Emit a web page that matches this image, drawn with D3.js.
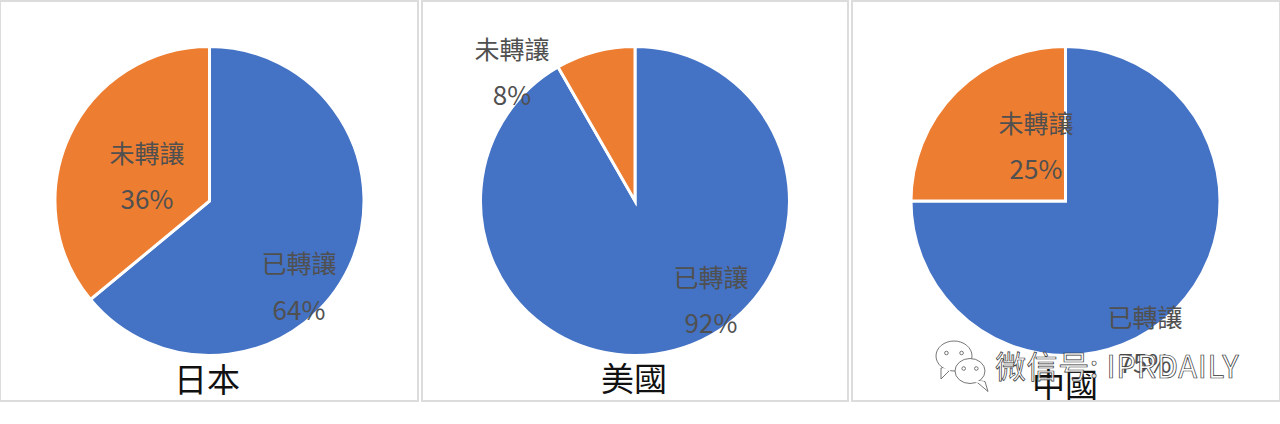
<!DOCTYPE html>
<html><head><meta charset="utf-8">
<script src="https://cdn.jsdelivr.net/npm/d3@7"></script>
<style>html,body{margin:0;background:#fff}svg{display:block}text{font-family:"Noto Sans CJK TC","Noto Sans",sans-serif}</style>
</head><body><svg id="c" width="1280" height="424"></svg>
<script>
const countries=["日本","美國","中國"];
const categories=["已轉讓","未轉讓"];
const japanValues=[64,36];
const usValues=[91.7,8.3];
const chinaValues=[75,25];
const shownPercents=[["64%","36%"],["92%","8%"],["75%","25%"]];
const colors=["#4472C4","#ED7D31"];
const panels=[
 {x:0,w:418,cx:209.5,cy:201,r:154.5,title:[207,392],lab:[[299,264,311],[147,154,200]],v:japanValues},
 {x:422,w:426,cx:635,cy:201,r:154.5,title:[634,391],lab:[[711,278,324],[512,50,96]],v:usValues},
 {x:852,w:428,cx:1065.5,cy:201,r:154.5,title:[1065,397],lab:[[1145,318,364],[1036,124,170]],v:chinaValues}];
const svg=d3.select("#c");
const pie=d3.pie().sort(null).value(d=>d);
const arc=d3.arc().innerRadius(0);
panels.forEach((p,i)=>{
 svg.append("rect").attr("x",p.x).attr("y",1).attr("width",p.w).attr("height",400).attr("fill","#fff").attr("stroke","#dcdcdc").attr("stroke-width",2);
 const g=svg.append("g").attr("transform",`translate(${p.cx},${p.cy})`);
 g.selectAll("path").data(pie(p.v)).join("path").attr("d",d=>arc.outerRadius(p.r)(d)).attr("fill",(d,j)=>colors[j]).attr("stroke","#fff").attr("stroke-width",3);
 categories.forEach((c,j)=>{
  svg.append("text").attr("x",p.lab[j][0]).attr("y",p.lab[j][1]+9).attr("text-anchor","middle").attr("font-size",25).attr("fill","#505050").text(c);
  svg.append("text").attr("x",p.lab[j][0]).attr("y",p.lab[j][2]+9).attr("text-anchor","middle").attr("font-size",26).attr("fill","#505050").text(shownPercents[i][j]);
 });
 svg.append("text").attr("x",p.title[0]).attr("y",p.title[1]).attr("text-anchor","middle").attr("font-size",33).attr("fill","#111").text(countries[i]);
});
const wm=svg.append("g");
const bubble=(cx,cy,rx,ry,tx)=>{
 const b=wm.append("g").attr("fill","#fff").attr("stroke","#666").attr("stroke-width",.9);
 b.append("path").attr("d",`M${cx+tx-5},${cy+ry-3}L${cx+tx+(tx<0?-5:8)},${cy+ry+8}L${cx+tx+5},${cy+ry-2}Z`);
 b.append("ellipse").attr("cx",cx).attr("cy",cy).attr("rx",rx).attr("ry",ry);
 b.append("path").attr("d",`M${cx+tx-4},${cy+ry-2}L${cx+tx+4},${cy+ry-1}`).attr("stroke","#fff").attr("stroke-width",2);
 [-.42,.42].forEach(k=>b.append("circle").attr("cx",cx+k*rx).attr("cy",cy-ry*.2).attr("r",1.8).attr("fill","#fff"));
};
bubble(954,356,18,15,-8);
bubble(970,371,15,12.5,10);
wm.append("text").attr("x",995).attr("y",378).attr("font-size",31).attr("letter-spacing",.6)
 .attr("fill","#fff").attr("fill-opacity",.9).attr("stroke","#333").attr("stroke-width",.7).text("微信号: IPRDAILY");
</script></body></html>
